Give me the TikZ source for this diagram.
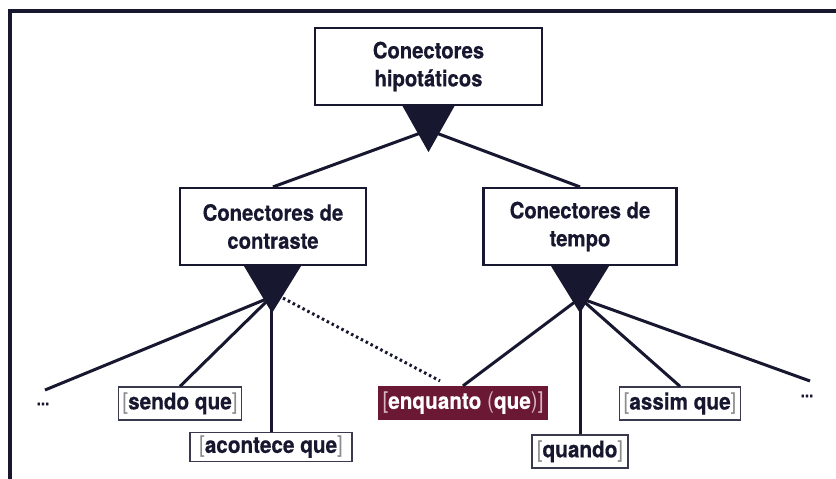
\documentclass[tikz,border=0pt]{standalone}
\usepackage{fontspec}
\setmainfont{TeX Gyre Heros}
\newfontfamily\condfont{TeX Gyre Heros}[FakeStretch=0.9, BoldFeatures={FakeBold=0.4}]
\usetikzlibrary{calc}

\definecolor{inkblue}{HTML}{17172F}
\definecolor{wine}{HTML}{6A1833}
\definecolor{bracketgray}{HTML}{8C8C8C}
\definecolor{winelight}{HTML}{D8B4C0}

\newcommand{\itemtext}[1]{\textcolor{bracketgray}{\mdseries[}#1\textcolor{bracketgray}{\mdseries]}}
\newcommand{\wineparen}[1]{\textcolor{winelight}{\mdseries#1}}

\tikzset{
  mainbox/.style={draw=inkblue, line width=2.2pt, fill=white, align=center,
    minimum height=77pt, inner sep=0pt, text=inkblue,
    font=\condfont\bfseries\fontsize{22.5}{28}\selectfont},
  itembox/.style={draw=inkblue!85, line width=1.3pt, fill=white,
    minimum height=33pt, inner xsep=4pt, inner ysep=0pt, text=inkblue,
    font=\condfont\bfseries\fontsize{23}{24}\selectfont},
  dotsnode/.style={text=inkblue, inner sep=0pt, font=\condfont\bfseries\fontsize{17}{17}\selectfont},
  link/.style={draw=inkblue, line width=3pt},
  dotlink/.style={draw=inkblue, line width=3pt, dash pattern=on 2.5pt off 3pt},
}

\begin{document}
\begin{tikzpicture}[x=1pt, y=-1pt]
\useasboundingbox (0,0) rectangle (836,479);

% frame
\draw[inkblue, line width=4.5pt] (10,479) -- (10,11) -- (836,11);

% boxes
\node[mainbox, minimum width=227pt] (hipo) at (428.5,66.5) {Conectores\\hipotáticos};
\node[mainbox, minimum width=186pt] (contraste) at (273,226.5) {Conectores de\\contraste};
\node[mainbox, minimum width=193pt] (tempo) at (580,226.5) {Conectores de\\tempo};

\node[itembox, minimum width=121pt] (sendo) at (180,403.5) {\itemtext{sendo que}};
\node[itembox, minimum width=162pt, minimum height=29pt] (acontece) at (271,447) {\itemtext{acontece que}};
\node[itembox, minimum width=164pt, draw=wine, fill=wine, text=white] (enquanto) at (463,403)
  {\textcolor{winelight}{\mdseries[}enquanto \wineparen{(}que\wineparen{)}\textcolor{winelight}{\mdseries]}};
\node[itembox, minimum width=96pt] (quando) at (580,451.5) {\itemtext{quando}};
\node[itembox, minimum width=113pt] (assim) at (680,403.5) {\itemtext{assim que}};
\node[dotsnode] (dotsL) at (43,404) {...};
\node[dotsnode] (dotsR) at (807,396) {...};

% hubs and free ends
\coordinate (hubA) at ($(hipo.south)+(0,24)$);
\coordinate (hubB) at ($(contraste.south)+(-2,31)$);
\coordinate (hubC) at ($(tempo.south)+(0,32)$);
\coordinate (endL) at (45,390);
\coordinate (endR) at (810,381);
\coordinate (dotend) at ($(enquanto.north)+(-23,-5)$);

% connectors
\draw[link] (hubA) -- (contraste.north);
\draw[link] (hubA) -- (tempo.north);

\draw[link] (hubB) -- (endL);
\draw[link] (hubB) -- (sendo.north);
\draw[link] (hubB) -- (hubB |- acontece.north);
\draw[dotlink] ($(contraste.south)+(10,32)$) -- (dotend);

\draw[link] (hubC) -- (enquanto.north);
\draw[link] (hubC) -- (hubC |- quando.north);
\draw[link] (hubC) -- (assim.north);
\draw[link] (hubC) -- (endR);

% triangles
\fill[inkblue] ($(hipo.south)+(-26,0)$) -- ($(hipo.south)+(26,0)$) -- ($(hipo.south)+(0,46)$) -- cycle;
\fill[inkblue] ($(contraste.south)+(-29,0)$) -- ($(contraste.south)+(28,0)$) -- ($(contraste.south)+(-1,47)$) -- cycle;
\fill[inkblue] ($(tempo.south)+(-29,0)$) -- ($(tempo.south)+(29,0)$) -- ($(tempo.south)+(0,47)$) -- cycle;

\end{tikzpicture}
\end{document}
